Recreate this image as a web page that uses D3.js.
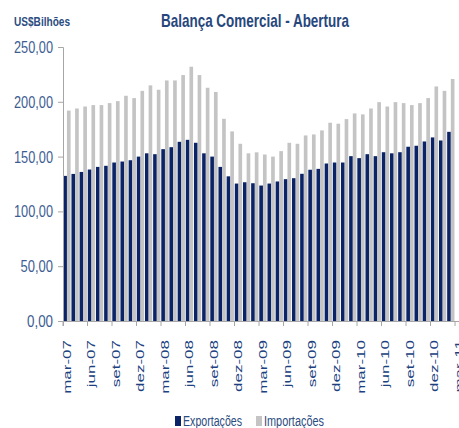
<!DOCTYPE html>
<html>
<head>
<meta charset="utf-8">
<script src="https://cdn.jsdelivr.net/npm/d3@7.9.0/dist/d3.min.js"></script>
<style>
  html, body { margin: 0; padding: 0; background: #fff; }
  svg { display: block; font-family: "Liberation Sans", Arial, sans-serif; }
</style>
</head>
<body>
<svg id="chart" width="459" height="428"></svg>
<script>
const meses = [
  'mar-07','abr-07','mai-07','jun-07','jul-07','ago-07','set-07','out-07','nov-07','dez-07','jan-08','fev-08',
  'mar-08','abr-08','mai-08','jun-08','jul-08','ago-08','set-08','out-08','nov-08','dez-08','jan-09','fev-09',
  'mar-09','abr-09','mai-09','jun-09','jul-09','ago-09','set-09','out-09','nov-09','dez-09','jan-10','fev-10',
  'mar-10','abr-10','mai-10','jun-10','jul-10','ago-10','set-10','out-10','nov-10','dez-10','jan-11','fev-11',
  'mar-11'
];
const exportacoes = [
  132.4, 134.2, 136.0, 138.2, 140.6, 141.6, 144.6, 145.5, 146.7, 150.0,
  153.0, 152.2, 156.8, 158.6, 163.5, 165.3, 162.6, 153.0, 150.0, 140.6,
  132.0, 125.4, 126.6, 125.7, 123.6, 125.4, 127.3, 129.4, 130.3, 134.3,
  138.0, 138.8, 143.7, 144.6, 144.6, 150.4, 148.6, 152.2, 150.4, 154.0,
  153.0, 154.0, 159.0, 159.9, 163.8, 167.5, 164.7, 172.6
];
const importacoes = [
  192.0, 193.9, 195.7, 197.0, 197.0, 198.8, 200.6, 205.5, 203.4, 210.0,
  215.0, 211.0, 219.5, 219.5, 224.4, 232.0, 224.4, 212.8, 209.0, 184.5,
  173.0, 161.7, 153.0, 153.9, 151.9, 150.0, 155.0, 162.6, 161.7, 169.3,
  170.2, 173.9, 180.9, 180.0, 184.2, 189.4, 188.5, 193.9, 199.7, 195.7,
  199.7, 198.8, 197.0, 198.8, 203.4, 214.0, 210.0, 220.8
];
const yTicks = [0, 50, 100, 150, 200, 250];
const series = ['Exportações', 'Importações'];
const cores = ['#0b2468', '#c4c4c4'];

const svg = d3.select('#chart');
const fmt = v => d3.format('.2f')(v).replace('.', ',');

const x = d3.scaleBand().domain(meses).range([63, 463.2]).padding(0);
const xs = d3.scaleBand().domain(series).range([0.3, 7.6]).padding(0);
const y = d3.scaleLinear().domain([0, 250]).range([321, 47]);
const color = d3.scaleOrdinal().domain(series).range(cores);

// barras
const rows = exportacoes.map((v, i) => ({ mes: meses[i], vals: [v, importacoes[i]] }));
const grupos = svg.append('g').selectAll('g')
  .data(rows)
  .join('g')
  .attr('transform', d => `translate(${x(d.mes)},0)`);
grupos.selectAll('rect')
  .data(d => d.vals.map((v, k) => ({ key: series[k], value: v })))
  .join('rect')
  .attr('x', d => xs(d.key))
  .attr('width', xs.bandwidth())
  .attr('y', d => y(d.value))
  .attr('height', d => y(0) - y(d.value))
  .attr('fill', d => color(d.key));

// eixo y
const yAxis = svg.append('g')
  .attr('transform', 'translate(63,0)')
  .call(d3.axisLeft(y).tickValues(yTicks).tickSize(5).tickFormat(''));
yAxis.select('.domain').attr('stroke', '#a6a6a6');
yAxis.selectAll('.tick line').attr('stroke', '#a6a6a6');
svg.append('g').selectAll('text')
  .data(yTicks)
  .join('text')
  .attr('x', 53)
  .attr('y', d => y(d) + 6)
  .attr('text-anchor', 'end')
  .attr('font-size', 17)
  .attr('fill', '#3d5d92')
  .attr('textLength', d => fmt(d).length * 6.5)
  .attr('lengthAdjust', 'spacingAndGlyphs')
  .text(fmt);

// eixo x
const tickMeses = meses.filter((m, i) => i % 3 === 0);
const xAxis = svg.append('g')
  .attr('transform', `translate(0,${y(0)})`)
  .call(d3.axisBottom(x).tickValues(tickMeses).tickSize(5).tickFormat(''));
xAxis.select('.domain').attr('stroke', '#a6a6a6');
xAxis.selectAll('.tick line')
  .attr('stroke', '#a6a6a6')
  .attr('transform', `translate(${-x.bandwidth() / 2},0)`);
svg.append('g').selectAll('text')
  .data(tickMeses)
  .join('text')
  .attr('transform', d => `translate(${x(d) + x.bandwidth() / 2},340) scale(0.62,1) rotate(-90)`)
  .attr('text-anchor', 'end')
  .attr('dy', '0.35em')
  .attr('font-size', 17)
  .attr('fill', '#203f80')
  .text(d => d);

// títulos
svg.append('text')
  .attr('x', 161).attr('y', 27)
  .attr('font-size', 19).attr('font-weight', 'bold')
  .attr('fill', '#27477c')
  .attr('textLength', 188).attr('lengthAdjust', 'spacingAndGlyphs')
  .text('Balança Comercial - Abertura');
svg.append('text')
  .attr('x', 14).attr('y', 26)
  .attr('font-size', 13).attr('font-weight', 'bold')
  .attr('fill', '#2b4c80')
  .attr('textLength', 56).attr('lengthAdjust', 'spacingAndGlyphs')
  .text('US$Bilhões');

// legenda
const legPos = [{ sx: 175, tx: 183, w: 59 }, { sx: 256, tx: 264, w: 60 }];
const leg = svg.append('g').selectAll('g')
  .data(series)
  .join('g');
leg.append('rect')
  .attr('x', (d, i) => legPos[i].sx).attr('y', 416)
  .attr('width', 6).attr('height', 10)
  .attr('fill', d => color(d));
leg.append('text')
  .attr('x', (d, i) => legPos[i].tx).attr('y', 426)
  .attr('font-size', 14)
  .attr('fill', '#2b4c80')
  .attr('textLength', (d, i) => legPos[i].w).attr('lengthAdjust', 'spacingAndGlyphs')
  .text(d => d);
</script>
</body>
</html>
